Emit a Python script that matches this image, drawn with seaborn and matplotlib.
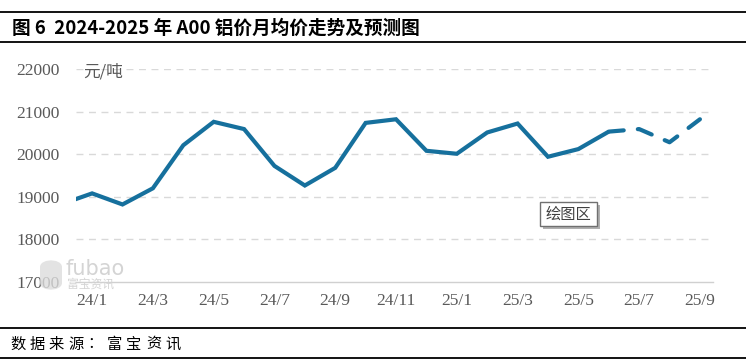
import pandas as pd
import matplotlib.pyplot as plt
import seaborn as sns
from matplotlib.patches import FancyBboxPatch

# monthly average price (yuan/ton); 23/12 only sits at the clipped left edge
months = ['23/12', '24/1', '24/2', '24/3', '24/4', '24/5', '24/6', '24/7', '24/8',
          '24/9', '24/10', '24/11', '24/12', '25/1', '25/2', '25/3', '25/4',
          '25/5', '25/6', '25/7', '25/8', '25/9']
actual = [18830, 19080, 18820, 19200, 20210, 20760, 20590, 19725, 19265,
          19680, 20735, 20820, 20080, 20010, 20510, 20720, 19940, 20120, 20530]
forecast_months = ['25/6', '25/7', '25/8', '25/9']
forecast = [20530, 20590, 20280, 20820]
tick_labels = ['24/1', '24/3', '24/5', '24/7', '24/9', '24/11',
               '25/1', '25/3', '25/5', '25/7', '25/9']
y_ticks = [17000, 18000, 19000, 20000, 21000, 22000]

color = '#16709d'
grey = '#595959'


def month_pos(m):
    return months.index(m) - 1  # 24/1 -> 0


df_act = pd.DataFrame({'x': [month_pos(m) for m in months[:len(actual)]], 'price': actual})
df_fc = pd.DataFrame({'x': [month_pos(m) for m in forecast_months], 'price': forecast})

sns.set_theme(style='white')
plt.rcParams['font.family'] = ['Noto Sans CJK SC', 'DejaVu Sans']

fig = plt.figure(figsize=(7.46, 3.64), dpi=100)
ax = fig.add_axes([76 / 746, 1 - 282 / 364, (713 - 76) / 746, (282 - 69) / 364])

sns.lineplot(data=df_act, x='x', y='price', ax=ax, color=color, lw=3,
             solid_capstyle='butt', solid_joinstyle='miter')
sns.lineplot(data=df_fc, x='x', y='price', ax=ax, color=color, lw=3,
             dashes=False, linestyle=(0, (3.6, 3.4)), dash_capstyle='round')

ax.set_xlim(-0.53, 20.43)
ax.set_ylim(17000, 22000)
ax.set_yticks(y_ticks)
ax.set_yticklabels([str(v) for v in y_ticks], family='Liberation Serif',
                   fontsize=12.5, color=grey)
ax.set_xticks(range(0, 21, 2))
ax.set_xticklabels(tick_labels, family='Liberation Serif', fontsize=12.5, color=grey)
ax.set_xticks([1.48 + 2 * k for k in range(10)], minor=True)
ax.tick_params(axis='x', which='major', length=0, pad=8)
ax.tick_params(axis='x', which='minor', length=4, color='#d0d0d0', width=1)
ax.tick_params(axis='y', length=0, pad=12)
ax.set_xlabel('')
ax.set_ylabel('')

for v in y_ticks[1:]:
    ax.axhline(v, color='#d9d9d9', lw=1, ls=(0, (5, 4)), zorder=0)
for s in ['top', 'right', 'left']:
    ax.spines[s].set_visible(False)
ax.spines['bottom'].set_color('#d0d0d0')
ax.spines['bottom'].set_linewidth(1)

ax.text(0.0115, 0.986, '元/吨', transform=ax.transAxes, fontsize=12,
        color=grey, va='center', ha='left')

# stray "plot area" label box
fig.patches.append(FancyBboxPatch((543 / 746, 1 - 229 / 364), 57 / 746, 24 / 364,
                                  boxstyle='square,pad=0', transform=fig.transFigure,
                                  fc='#b0b0b0', ec='none', zorder=4))
fig.patches.append(FancyBboxPatch((540 / 746, 1 - 226 / 364), 57 / 746, 24 / 364,
                                  boxstyle='square,pad=0', transform=fig.transFigure,
                                  fc='white', ec='#707070', lw=1, zorder=5))
fig.text(568.5 / 746, 1 - 214 / 364, '绘图区', fontsize=11, color='#404040',
         ha='center', va='center', zorder=6)

# watermark
fig.text(66 / 746, 1 - 269 / 364, 'fubao', fontsize=15, color='#d4d4d4',
         ha='left', va='center', family='DejaVu Sans', zorder=1)
fig.text(67 / 746, 1 - 284 / 364, '富宝资讯', fontsize=8.5, color='#d4d4d4',
         ha='left', va='center', zorder=1)
fig.patches.append(FancyBboxPatch((40 / 746, 1 - 290 / 364), 22 / 746, 30 / 364,
                                  boxstyle='round,pad=0,rounding_size=0.02',
                                  transform=fig.transFigure, fc='#dcdcdc',
                                  ec='none', zorder=1, alpha=0.8))

# title and source bands
for y in [12, 42, 328, 358]:
    fig.add_artist(plt.Line2D([0, 1], [1 - y / 364] * 2, color='black', lw=1.3,
                              transform=fig.transFigure))
fig.text(12 / 746, 1 - 28 / 364, '图 6  2024-2025 年 A00 铝价月均价走势及预测图',
         fontsize=13.4, fontweight='bold', color='black', ha='left', va='center')
source = '数据来源：富宝资讯'
for i, ch in enumerate(source):
    fig.text((10 + 19.4 * i) / 746, 1 - 344 / 364, ch, fontsize=11,
             color='black', ha='left', va='center')

fig.savefig('out.png', dpi=100)
